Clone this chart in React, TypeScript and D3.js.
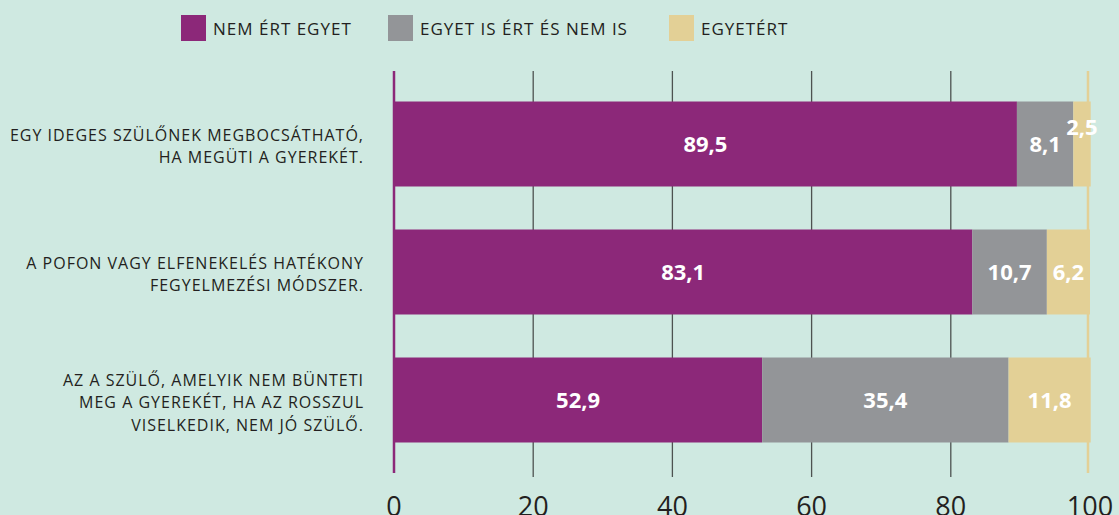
import React from "react";
import * as d3 from "d3";

const categories: string[][] = [
  ["EGY IDEGES SZÜLŐNEK MEGBOCSÁTHATÓ,", "HA MEGÜTI A GYEREKÉT."],
  ["A POFON VAGY ELFENEKELÉS HATÉKONY", "FEGYELMEZÉSI MÓDSZER."],
  ["AZ A SZÜLŐ, AMELYIK NEM BÜNTETI", "MEG A GYEREKÉT, HA AZ ROSSZUL", "VISELKEDIK, NEM JÓ SZÜLŐ."],
];
const seriesNames = ["NEM ÉRT EGYET", "EGYET IS ÉRT ÉS NEM IS", "EGYETÉRT"];
const disagree = [89.5, 83.1, 52.9];
const neutral = [8.1, 10.7, 35.4];
const agree = [2.5, 6.2, 11.8];
const tickValues = [0, 20, 40, 60, 80, 100];

const colors = ["#8C2879", "#939598", "#E3D096"];
const BG = "#CFE9E1";
const TEXT = "#231F20";
const FONT = "'Open Sans', sans-serif";

export default function App() {
  const W = 1119;
  const H = 515;
  const x = d3.scaleLinear().domain([0, 100]).range([394, 1090]);
  const y = d3
    .scaleBand<number>()
    .domain(categories.map((_, i) => i))
    .range([80, 464])
    .paddingInner(0.336)
    .paddingOuter(0.168);

  const rows = categories.map((_, i) => ({
    i,
    values: [disagree[i], neutral[i], agree[i]],
  }));
  const stack = d3
    .stack<{ i: number; values: number[] }, number>()
    .keys([0, 1, 2])
    .value((d, k) => d.values[k]);
  const stacked = stack(rows);

  const fmt = (v: number) => v.toFixed(1).replace(".", ",");
  const legendX = [181, 388, 669];
  const lineH = 22.5;

  return (
    <svg
      width={W}
      height={H}
      style={{ position: "fixed", left: 0, top: 0, display: "block" }}
      fontFamily={FONT}
    >
      <rect x={0} y={0} width={W} height={H} fill={BG} />

      {/* legend */}
      {seriesNames.map((name, k) => (
        <g key={name}>
          <rect x={legendX[k]} y={15} width={25} height={26} fill={colors[k]} />
          <text x={legendX[k] + 32} y={34.5} fontSize={17} letterSpacing={1} fill={TEXT}>
            {name}
          </text>
        </g>
      ))}

      {/* gridlines */}
      {tickValues
        .filter((t) => t > 0 && t < 100)
        .map((t) => (
          <line
            key={t}
            x1={x(t)}
            x2={x(t)}
            y1={71}
            y2={477}
            stroke="#4d5250"
            strokeWidth={1.3}
          />
        ))}
      <line x1={x(100) - 2} x2={x(100) - 2} y1={71} y2={473} stroke={colors[2]} strokeWidth={2.5} />

      {/* bars */}
      {stacked.map((layer, k) => (
        <g key={k}>
          {layer.map((seg, i) => (
            <rect
              key={i}
              x={x(seg[0])}
              y={y(i)!}
              width={x(seg[1]) - x(seg[0])}
              height={y.bandwidth()}
              fill={colors[k]}
            />
          ))}
        </g>
      ))}

      {/* zero line */}
      <line x1={x(0)} x2={x(0)} y1={71} y2={473} stroke={colors[0]} strokeWidth={2.5} />

      {/* value labels */}
      {stacked.map((layer, k) => (
        <g key={"l" + k}>
          {layer.map((seg, i) => {
            const v = seg[1] - seg[0];
            const cx = (x(seg[0]) + x(seg[1])) / 2;
            const cy = y(i)! + y.bandwidth() / 2 + (v < 5 ? -17 : 0);
            return (
              <text
                key={i}
                x={cx}
                y={cy + 8}
                textAnchor="middle"
                fontSize={22}
                fontWeight={700}
                fill="#FFFFFF"
              >
                {fmt(rows[i].values[k])}
              </text>
            );
          })}
        </g>
      ))}

      {/* category labels */}
      {categories.map((lines, i) => {
        const c = y(i)! + y.bandwidth() / 2;
        return (
          <text key={i} textAnchor="end" fontSize={16} letterSpacing={1} fill={TEXT}>
            {lines.map((ln, j) => (
              <tspan key={j} x={364} y={c + 8 + (j - (lines.length - 1) / 2) * lineH}>
                {ln}
              </tspan>
            ))}
          </text>
        );
      })}

      {/* x tick labels */}
      {tickValues.map((t) => (
        <text key={t} x={x(t)} y={516} textAnchor="middle" fontSize={27} fill={TEXT}>
          {t}
        </text>
      ))}
    </svg>
  );
}
